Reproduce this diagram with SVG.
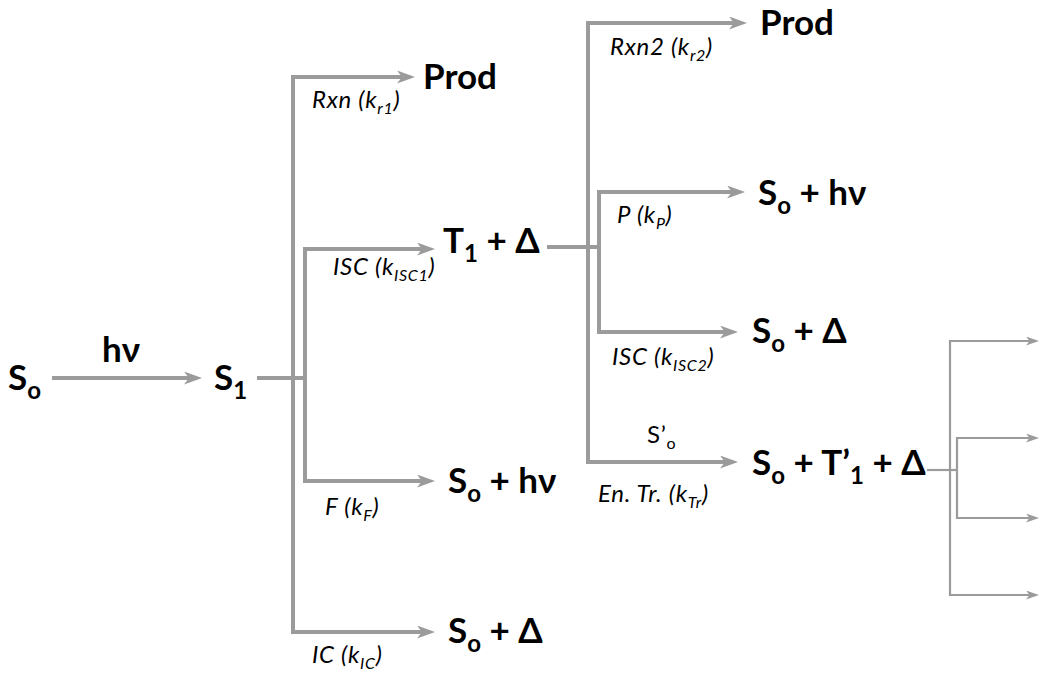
<svg xmlns="http://www.w3.org/2000/svg" width="1050" height="682" viewBox="0 0 1050 682">
<style>
.c{fill:none;stroke:#9b9b9b;stroke-width:4}
.t{fill:none;stroke:#9b9b9b;stroke-width:2.2}
.b{font-family:Lato,"Open Sans",sans-serif;font-weight:bold;font-size:35px;fill:#000}
.i{font-family:Lato,"Open Sans",sans-serif;font-style:italic;font-size:24px;letter-spacing:0.7px;fill:#000}
.s{font-size:24px}
.si{font-size:16px}
</style>
<defs>
<marker id="a" markerUnits="userSpaceOnUse" markerWidth="20" markerHeight="14" refX="10" refY="6.5" orient="auto-start-reverse">
<path d="M0,0 L18,6.5 L0,13 L5,6.5 z" fill="#9b9b9b"/>
</marker>
<marker id="a2" markerUnits="userSpaceOnUse" markerWidth="14" markerHeight="10" refX="7" refY="4.5" orient="auto-start-reverse">
<path d="M0,0 L13,4.5 L0,9 L3.5,4.5 z" fill="#9b9b9b"/>
</marker>
</defs>
<g id="connectors">
<line class="c" x1="52" y1="378" x2="194" y2="378" marker-end="url(#a)"/>
<line class="c" x1="257" y1="378" x2="307" y2="378"/>
<polyline class="c" points="407,77 293,77 293,632 427,632" marker-start="url(#a)" marker-end="url(#a)"/>
<polyline class="c" points="427,249 305,249 305,481 427,481" marker-start="url(#a)" marker-end="url(#a)"/>
<line class="c" x1="547" y1="247" x2="600" y2="247"/>
<polyline class="c" points="739,23 588,23 588,462 730,462" marker-start="url(#a)" marker-end="url(#a)"/>
<polyline class="c" points="737,192 599,192 599,332 730,332" marker-start="url(#a)" marker-end="url(#a)"/>
<line class="t" x1="927" y1="470" x2="957" y2="470"/>
<polyline class="t" points="1033,341 950,341 950,595 1033,595" marker-start="url(#a2)" marker-end="url(#a2)"/>
<polyline class="t" points="1033,438 957,438 957,518 1033,518" marker-start="url(#a2)" marker-end="url(#a2)"/>
</g>
<g id="n-s0"><text class="b" x="8" y="390">S<tspan class="s" dy="9">o</tspan></text></g>
<g id="l-hv"><text class="b" x="102" y="362">hν</text></g>
<g id="n-s1"><text class="b" x="214" y="390">S<tspan class="s" dy="9">1</tspan></text></g>
<g id="n-prod1"><text class="b" x="423" y="89">Prod</text></g>
<g id="l-rxn"><text class="i" x="312" y="108">Rxn (k<tspan class="si" dy="6">r1</tspan><tspan dy="-6">)</tspan></text></g>
<g id="n-t1"><text class="b" x="443" y="253">T<tspan class="s" dy="9">1</tspan><tspan dy="-9"> + Δ</tspan></text></g>
<g id="l-isc1"><text class="i" x="333" y="275">ISC (k<tspan class="si" dy="6">ISC1</tspan><tspan dy="-6">)</tspan></text></g>
<g id="n-f"><text class="b" x="448" y="493">S<tspan class="s" dy="9">o</tspan><tspan dy="-9"> + hν</tspan></text></g>
<g id="l-f"><text class="i" x="325" y="515">F (k<tspan class="si" dy="6">F</tspan><tspan dy="-6">)</tspan></text></g>
<g id="n-ic"><text class="b" x="448" y="643">S<tspan class="s" dy="9">o</tspan><tspan dy="-9"> + Δ</tspan></text></g>
<g id="l-ic"><text class="i" x="312" y="663">IC (k<tspan class="si" dy="6">IC</tspan><tspan dy="-6">)</tspan></text></g>
<g id="n-prod2"><text class="b" x="760" y="35">Prod</text></g>
<g id="l-rxn2"><text class="i" x="610" y="55">Rxn2 (k<tspan class="si" dy="6">r2</tspan><tspan dy="-6">)</tspan></text></g>
<g id="n-p"><text class="b" x="758" y="205">S<tspan class="s" dy="9">o</tspan><tspan dy="-9"> + hν</tspan></text></g>
<g id="l-p"><text class="i" x="617" y="223">P (k<tspan class="si" dy="6">P</tspan><tspan dy="-6">)</tspan></text></g>
<g id="n-isc2"><text class="b" x="752" y="343">S<tspan class="s" dy="9">o</tspan><tspan dy="-9"> + Δ</tspan></text></g>
<g id="l-isc2"><text class="i" x="612" y="365">ISC (k<tspan class="si" dy="6">ISC2</tspan><tspan dy="-6">)</tspan></text></g>
<g id="l-so"><text class="i" x="647" y="443" style="font-style:normal">S’<tspan class="si" dy="6">o</tspan></text></g>
<g id="n-entr"><text class="b" x="752" y="475">S<tspan class="s" dy="9">o</tspan><tspan dy="-9"> + T’</tspan><tspan class="s" dy="9">1</tspan><tspan dy="-9"> + Δ</tspan></text></g>
<g id="l-entr"><text class="i" x="598" y="502">En. Tr. (k<tspan class="si" dy="6">Tr</tspan><tspan dy="-6">)</tspan></text></g>
</svg>
